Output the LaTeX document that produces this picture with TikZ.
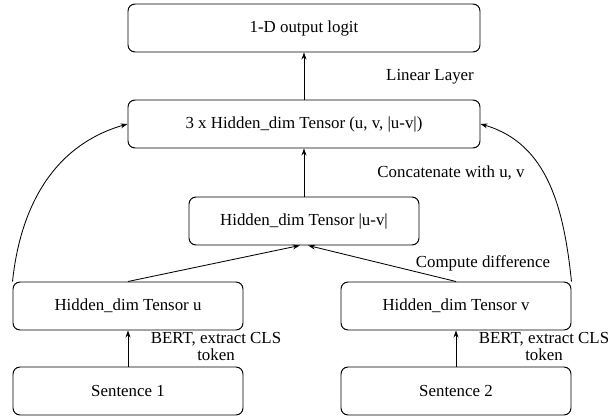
\documentclass[tikz,border=0pt]{standalone}
\usepackage{fontspec}
\setmainfont{Liberation Serif}
\usetikzlibrary{arrows.meta}
\tikzset{
  box/.style={draw, rounded corners=5pt, line width=0.7pt, minimum height=1.2cm, font=\fontsize{12}{12}\selectfont},
  wide/.style={box, minimum width=8.8cm},
  narrow/.style={box, minimum width=5.75cm},
  lbl/.style={font=\fontsize{12}{12}\selectfont, align=center, inner sep=0pt},
  flow/.style={-{Stealth[length=5pt,width=3.5pt]}, line width=0.6pt}
}

\begin{document}
\begin{tikzpicture}
    \useasboundingbox (0,0) rectangle (15.2,10.45);
    \node[wide] (logit) at (7.6,9.75) {1-D output logit};
    \node[wide] (concat) at (7.6,7.35) {3 x Hidden\_dim Tensor (u, v, |u-v|)};
    \node[narrow] (diff) at (7.6,4.925) {Hidden\_dim Tensor |u-v|};
    \node[narrow] (tensoru) at (3.2,2.8) {Hidden\_dim Tensor u};
    \node[narrow] (tensorv) at (11.4,2.8) {Hidden\_dim Tensor v};
    \node[narrow] (sentone) at (3.2,0.675) {Sentence 1};
    \node[narrow] (senttwo) at (11.4,0.675) {Sentence 2};

    \node[lbl] (linear) at (10.75,8.525) {Linear Layer};
    \node[lbl] (concatlbl) at (11.275,6.125) {Concatenate with u, v};
    \node[lbl] (difflbl) at (12.075,3.875) {Compute difference};
    \node[lbl] (bertu) at (5.4,1.79) {BERT, extract CLS\\token};
    \node[lbl] (bertv) at (13.6,1.79) {BERT, extract CLS\\token};

    \draw[flow] (concat) -- (logit);
    \draw[flow] (diff) -- (concat);
    \draw[flow] (tensoru.north) -- ([xshift=-3pt]diff.south);
    \draw[flow] (tensorv.north) -- ([xshift=3pt]diff.south);
    \draw[flow] (sentone) -- (tensoru);
    \draw[flow] (senttwo) -- (tensorv);
    \draw[flow] (tensoru.north west) to[out=84, in=196] (concat.west);
    \draw[flow] (tensorv.north east) to[out=96, in=-16] (concat.east);
  \end{tikzpicture}
\end{document}
